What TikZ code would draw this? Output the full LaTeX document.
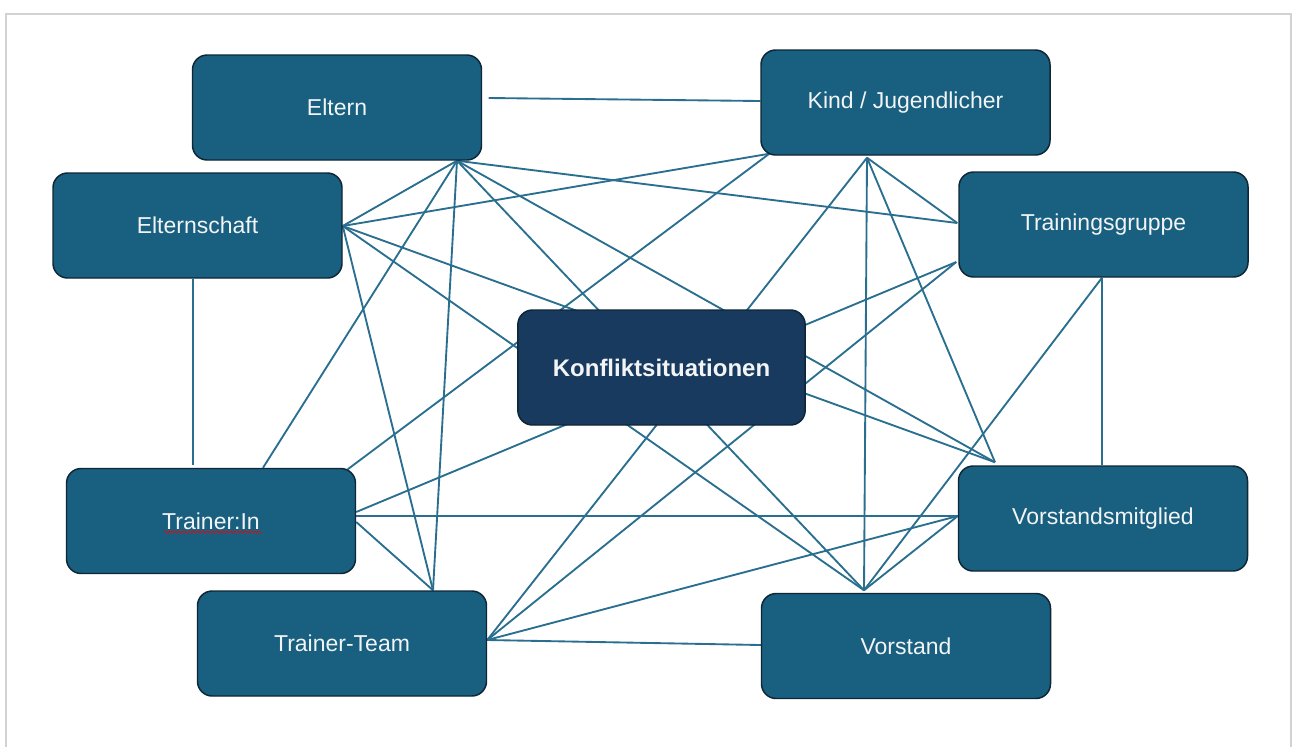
\documentclass[tikz,border=0pt]{standalone}
\usepackage{fontspec}
\setmainfont{Liberation Sans}
\usetikzlibrary{calc,backgrounds,decorations.pathmorphing}
\definecolor{boxfill}{HTML}{185F80}
\definecolor{boxdark}{HTML}{183A5E}
\definecolor{boxline}{HTML}{0E2635}
\definecolor{linkcol}{HTML}{2A6F8F}
\definecolor{framecol}{HTML}{D2D2D2}
\definecolor{txtcol}{HTML}{F2F4F6}
\begin{document}
\begin{tikzpicture}[x=0.75pt,y=-0.75pt,
  rolebox/.style={draw=boxline, line width=1.1pt, fill=boxfill, rounded corners=11pt,
    minimum width=216.75pt, minimum height=78.75pt, inner sep=0pt, text=txtcol,
    font=\fontsize{17.25pt}{20pt}\selectfont},
  centerbox/.style={rolebox, fill=boxdark, minimum width=215.5pt, minimum height=86.25pt,
    font=\fontsize{18pt}{21pt}\selectfont\bfseries},
  link/.style={draw=linkcol, line width=1.4pt},
  framel/.style={draw=framecol, line width=1.2pt},
  spellmark/.style={draw=red, line width=0.5pt, decorate,
    decoration={snake, amplitude=0.7pt, segment length=2.6pt}}]
\useasboundingbox (0,0) rectangle (1294,747);
\draw[framel] (6,747) -- (6,14) -- (1291,14) -- (1291,747);

\node[rolebox] (eltern) at (337,107.5) {Eltern};
\node[rolebox] (kind) at (905.5,102.5) {Kind / Jugendlicher};
\node[rolebox] (elternschaft) at (197.5,225.5) {Elternschaft};
\node[rolebox] (tgruppe) at (1103.5,224.5) {Trainingsgruppe};
\node[centerbox] (konflikt) at (661.5,367.5) {Konfliktsituationen};
\node[rolebox] (trainerin) at (211,521) {Trainer:In};
\node[rolebox] (tteam) at (342,643.5) {Trainer-Team};
\node[rolebox] (vmitglied) at (1103,518.5) {Vorstandsmitglied};
\node[rolebox] (vorstand) at (906,646) {Vorstand};

\draw[spellmark] ($(trainerin.center)+(-47,11)$) -- ($(trainerin.center)+(51,11)$);

\coordinate (elB) at ($(eltern.south)+(120,0)$);
\coordinate (elR) at ($(eltern.east)+(6.5,-9.5)$);
\coordinate (kiL) at ($(kind.west)+(0,-1.5)$);
\coordinate (kiBL) at ($(kind.south west)+(9,-2)$);
\coordinate (kiB) at ($(kind.south)+(-38.5,2)$);
\coordinate (esR) at ($(elternschaft.east)+(0,0.5)$);
\coordinate (esB) at ($(elternschaft.south)+(-4.5,0)$);
\coordinate (tgL1) at ($(tgruppe.west)+(-1,-1.5)$);
\coordinate (tgL2) at ($(tgruppe.west)+(-2,37.5)$);
\coordinate (tgB) at ($(tgruppe.south)+(-1.5,0)$);
\coordinate (tiT1) at ($(trainerin.north)+(-18,-2.5)$);
\coordinate (tiT2) at ($(trainerin.north)+(52,0)$);
\coordinate (tiTR) at ($(trainerin.north east)+(-8.5,1.5)$);
\coordinate (tiR1) at ($(trainerin.east)+(0,-9)$);
\coordinate (tiR2) at ($(trainerin.east)+(0,-5)$);
\coordinate (tiR3) at ($(trainerin.east)+(0,1)$);
\coordinate (ttT) at ($(tteam.north)+(91,0)$);
\coordinate (ttR) at ($(tteam.east)+(0,-3.5)$);
\coordinate (vT) at ($(vorstand.north)+(-42,-2.5)$);
\coordinate (vL) at ($(vorstand.west)+(0,-1)$);
\coordinate (vmT1) at ($(vmitglied.north)+(-108,-3)$);
\coordinate (vmT2) at ($(vmitglied.north)+(-1,0)$);
\coordinate (vmL) at ($(vmitglied.west)+(0,-2.5)$);

\begin{scope}[on background layer]
\draw[link] (elR) -- (kiL);
\draw[link] (elB) -- (esR);
\draw[link] (elB) -- (tiT2);
\draw[link] (elB) -- (ttT);
\draw[link] (elB) -- (tgL1);
\draw[link] (elB) -- (vT);
\draw[link] (elB) -- (vmT1);
\draw[link] (esR) -- (kiBL);
\draw[link] (esR) -- (vmT1);
\draw[link] (esR) -- (vT);
\draw[link] (esR) -- (ttT);
\draw[link] (esB) -- (tiT1);
\draw[link] (kiBL) -- (tiTR);
\draw[link] (kiB) -- (ttR);
\draw[link] (kiB) -- (vT);
\draw[link] (kiB) -- (vmT1);
\draw[link] (kiB) -- (tgL1);
\draw[link] (tgL2) -- (tiR1);
\draw[link] (tgL2) -- (ttR);
\draw[link] (tgB) -- (vmT2);
\draw[link] (tgB) -- (vT);
\draw[link] (tiR2) -- (vmL);
\draw[link] (tiR3) -- (ttT);
\draw[link] (ttR) -- (vL);
\draw[link] (ttR) -- (vmL);
\draw[link] (vT) -- (vmL);
\end{scope}
\end{tikzpicture}
\end{document}
